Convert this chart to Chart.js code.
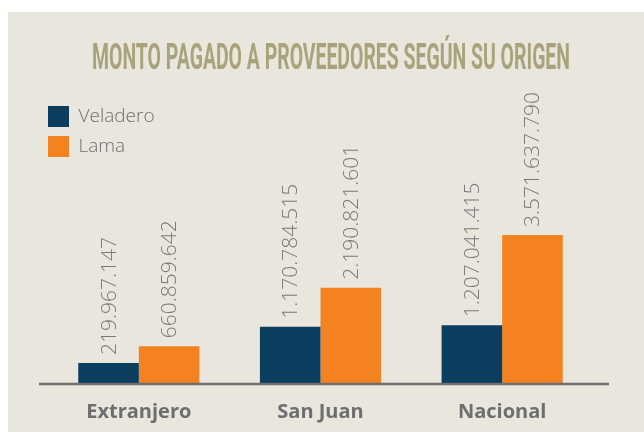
<!DOCTYPE html>
<html>
<head>
<meta charset="utf-8">
<script src="https://cdn.jsdelivr.net/npm/chart.js@4.4.0/dist/chart.umd.min.js"></script>
<style>
  html, body { margin: 0; padding: 0; background: #fff; }
  canvas { display: block; }
</style>
</head>
<body>
<canvas id="montoChart" width="644" height="432"></canvas>
<script>
const chartTitle = 'MONTO PAGADO A PROVEEDORES SEGÚN SU ORIGEN';
const categories = ['Extranjero', 'San Juan', 'Nacional'];
const seriesNames = ['Veladero', 'Lama'];
const veladero = [219967147, 1170784515, 1207041415];
const lama = [660859642, 2190821601, 3571637790];
// the original bars are not drawn from zero, the baseline sits a bit below it
const axisMin = -330000000;
const axisMax = 7185000000;

const gray = '#6d6e70';

function formatNumber(v) {
    return String(v).replace(/\B(?=(\d{3})+(?!\d))/g, '.');
}

const backgroundPlugin = {
    id: 'background',
    beforeDraw(chart) {
        const ctx = chart.ctx;
        ctx.save();
        ctx.fillStyle = '#ffffff';
        ctx.fillRect(0, 0, chart.width, chart.height);
        ctx.fillStyle = '#e9e7dd';
        ctx.fillRect(8, 12, chart.width - 8, chart.height - 12);

        // title, squeezed to look like the condensed font of the original
        ctx.font = 'bold 36px Roboto';
        const w = ctx.measureText(chartTitle).width;
        ctx.translate(331, 69);
        ctx.scale(478 / w, 1);
        ctx.fillStyle = '#a9a37b';
        ctx.textAlign = 'center';
        ctx.textBaseline = 'alphabetic';
        ctx.fillText(chartTitle, 0, 0);
        ctx.restore();
    },
    afterLayout(chart) {
        // legend sits in the top left corner of the plot area
        chart.legend.left = chart.chartArea.left - 9;
        chart.legend.top = chart.chartArea.top;
    }
};

const valueLabels = {
    id: 'valueLabels',
    afterDatasetsDraw(chart) {
        const ctx = chart.ctx;
        chart.data.datasets.forEach((ds, i) => {
            const meta = chart.getDatasetMeta(i);
            meta.data.forEach((bar, j) => {
                ctx.save();
                ctx.translate(bar.x + 1, bar.y - 8);
                ctx.rotate(-Math.PI / 2);
                ctx.font = '300 21px "Open Sans"';
                ctx.fillStyle = '#77787b';
                ctx.textAlign = 'left';
                ctx.textBaseline = 'middle';
                ctx.fillText(formatNumber(ds.data[j]), 0, 0);
                ctx.restore();
            });
        });

        // baseline
        const y = chart.chartArea.bottom;
        ctx.save();
        ctx.strokeStyle = gray;
        ctx.lineWidth = 2.5;
        ctx.beginPath();
        ctx.moveTo(39, y);
        ctx.lineTo(609, y);
        ctx.stroke();
        ctx.restore();
    }
};

const ctx = document.getElementById('montoChart').getContext('2d');

new Chart(ctx, {
    type: 'bar',
    data: {
        labels: categories,
        datasets: [{
            label: seriesNames[0],
            data: veladero,
            backgroundColor: '#0b3d5f',
            base: axisMin
        }, {
            label: seriesNames[1],
            data: lama,
            backgroundColor: '#f58220',
            base: axisMin
        }]
    },
    options: {
        responsive: false,
        animation: false,
        layout: {
            padding: { left: 48, right: 51, top: 97, bottom: 0 }
        },
        datasets: {
            bar: {
                barPercentage: 1,
                categoryPercentage: 0.667
            }
        },
        scales: {
            x: {
                grid: { display: false, drawTicks: false },
                border: { display: false },
                ticks: {
                    color: gray,
                    padding: 16,
                    font: { family: '"Open Sans"', size: 20, weight: 'bold' }
                },
                afterFit(scale) {
                    scale.height = 48;
                }
            },
            y: {
                display: false,
                min: axisMin,
                max: axisMax
            }
        },
        plugins: {
            legend: {
                position: 'chartArea',
                align: 'start',
                labels: {
                    boxWidth: 21,
                    boxHeight: 21,
                    padding: 9,
                    color: gray,
                    font: { family: '"Open Sans"', size: 19, weight: '300' }
                }
            },
            tooltip: { enabled: false }
        }
    },
    plugins: [backgroundPlugin, valueLabels]
});
</script>
</body>
</html>
